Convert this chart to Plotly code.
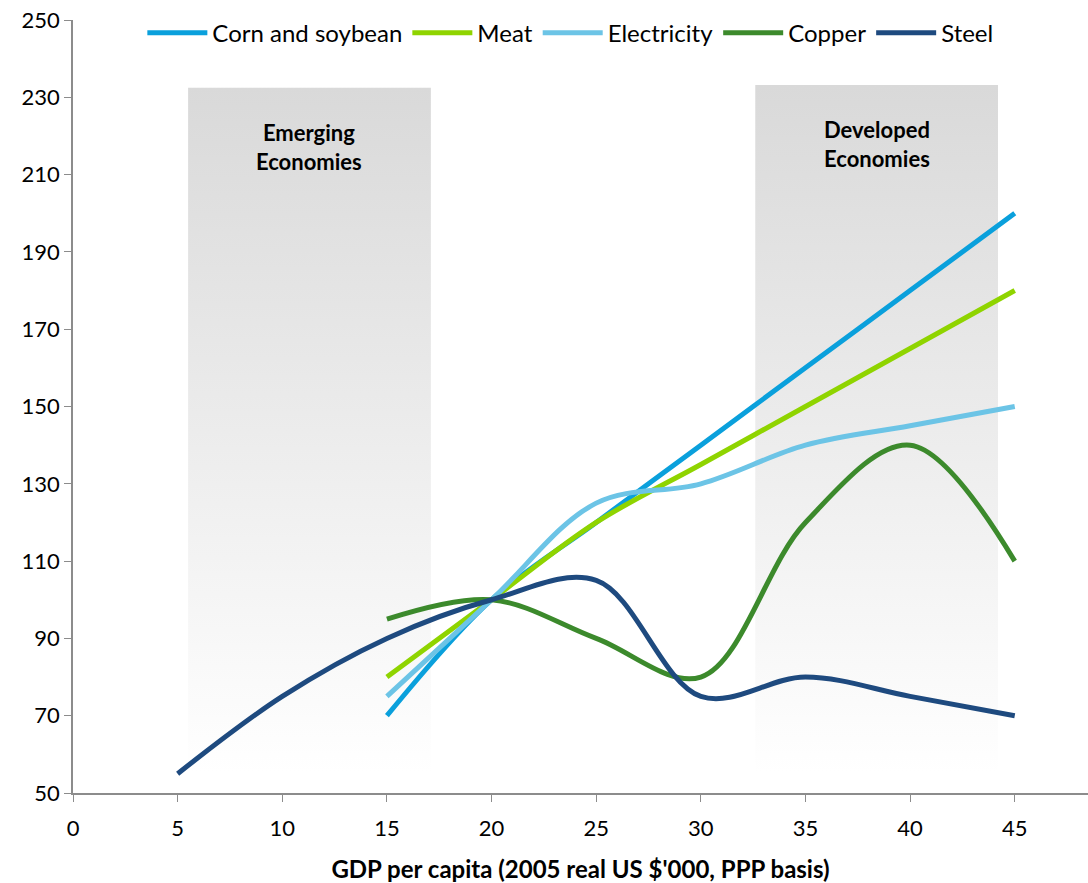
import plotly.graph_objects as go

# GDP per capita (2005 real US $'000, PPP basis)
gdp_short = [15, 20, 25, 30, 35, 40, 45]
gdp_steel = [5, 10, 15, 20, 25, 30, 35, 40, 45]

# Commodity demand index (GDP per capita of $20k = 100)
corn_soybean = [70, 100, 120, 140, 160, 180, 200]
meat = [80, 100, 120, 135, 150, 165, 180]
electricity = [75, 100, 125, 130, 140, 145, 150]
copper = [95, 100, 90, 80, 120, 140, 110]
steel = [55, 75, 90, 100, 105, 75, 80, 75, 70]

series = [
    ("Corn and soybean", gdp_short, corn_soybean, "#0aa0dc"),
    ("Meat", gdp_short, meat, "#8fd400"),
    ("Electricity", gdp_short, electricity, "#6cc4e6"),
    ("Copper", gdp_short, copper, "#3c8a2c"),
    ("Steel", gdp_steel, steel, "#1e4a7f"),
]

# Shaded income bands: (x0, x1, y_bottom, y_top, label)
bands = [
    (5.5, 17.1, 55, 232.5, "<b>Emerging<br>Economies</b>"),
    (32.6, 44.2, 55, 233.2, "<b>Developed<br>Economies</b>"),
]

FONT = "Lato, 'Open Sans', sans-serif"

fig = go.Figure()

for x0, x1, y0, y1, _ in bands:
    fig.add_trace(go.Scatter(
        x=[x0, x1, x1, x0, x0], y=[y0, y0, y1, y1, y0],
        mode="lines", fill="toself", line=dict(width=0),
        fillgradient=dict(type="vertical", start=y0, stop=y1,
                          colorscale=[[0, "rgba(255,255,255,1)"], [1, "#d9d9d9"]]),
        showlegend=False, hoverinfo="skip",
    ))

for name, xs, ys, color in series:
    fig.add_trace(go.Scatter(
        x=xs, y=ys, name=name, mode="lines",
        line=dict(color=color, width=5, shape="spline", smoothing=1.0),
    ))

for x0, x1, y0, y1, label in bands:
    fig.add_annotation(
        x=(x0 + x1) / 2, y=y1 - 7.5, text=label, showarrow=False,
        yanchor="top", font=dict(family=FONT, size=22, color="#000000"),
    )

fig.update_layout(
    width=1088, height=883,
    margin=dict(l=73, r=0, t=20, b=90),
    paper_bgcolor="white", plot_bgcolor="white",
    font=dict(family=FONT, size=22, color="#000000"),
    legend=dict(
        orientation="h", x=0.49, xanchor="center", y=1.012, yanchor="top",
        font=dict(size=24), itemwidth=60, bgcolor="rgba(0,0,0,0)",
        tracegroupgap=0,
    ),
    xaxis=dict(
        range=[0, 48.5], tickvals=list(range(0, 50, 5)),
        showline=True, linecolor="#8c8c8c", linewidth=1.5,
        ticks="outside", ticklen=7, tickcolor="#8c8c8c",
        ticklabelstandoff=8,
        showgrid=False, zeroline=False,
        title=dict(text="<b>GDP per capita (2005 real US $'000, PPP basis)</b>",
                   font=dict(size=24), standoff=22),
    ),
    yaxis=dict(
        range=[50, 250], tickvals=list(range(50, 251, 20)),
        showline=True, linecolor="#8c8c8c", linewidth=1.5,
        ticks="outside", ticklen=7, tickcolor="#8c8c8c",
        showgrid=False, zeroline=False,
    ),
)

fig.write_html("out.html")
